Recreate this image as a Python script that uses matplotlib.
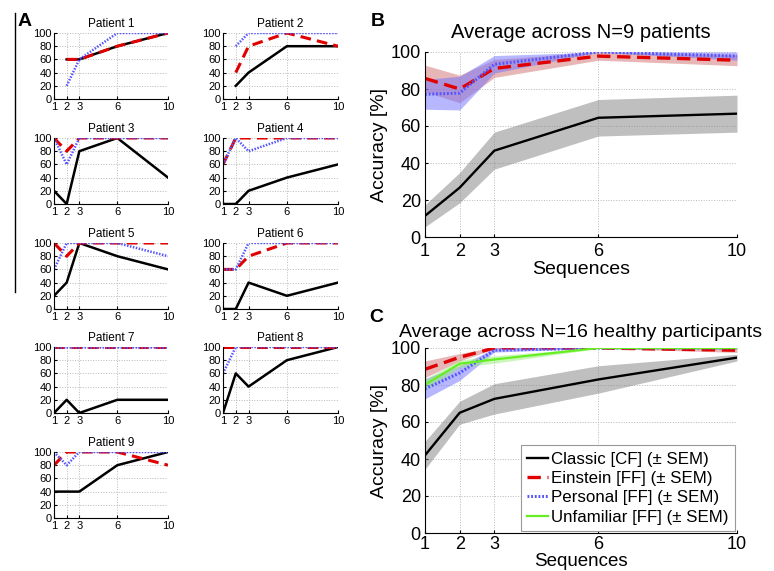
import numpy as np
import matplotlib.pyplot as plt
from matplotlib.lines import Line2D

plt.rcParams['font.family'] = ['Liberation Sans', 'DejaVu Sans']

# Number of stimulus sequences averaged
sequences = [1, 2, 3, 6, 10]
nan = np.nan

# Single-patient accuracies [%] (rows = patients 1..9)
classic_patients = [
    [nan, 60, 60, 80, 100],
    [nan, 20, 40, 80, 80],
    [20, 0, 80, 100, 40],
    [0, 0, 20, 40, 60],
    [20, 40, 100, 80, 60],
    [0, 0, 40, 20, 40],
    [0, 20, 0, 20, 20],
    [0, 60, 40, 80, 100],
    [40, 40, 40, 80, 100],
]
einstein_patients = [
    [nan, 60, 60, 80, 100],
    [nan, 40, 80, 100, 80],
    [100, 80, 100, 100, 100],
    [60, 100, 100, 100, 100],
    [100, 80, 100, 100, 100],
    [60, 60, 80, 100, 100],
    [100, 100, 100, 100, 100],
    [100, 100, 100, 100, 100],
    [80, 100, 100, 100, 80],
]
personal_patients = [
    [nan, 20, 60, 100, 100],
    [nan, 80, 100, 100, 100],
    [100, 60, 100, 100, 100],
    [60, 100, 80, 100, 100],
    [60, 100, 100, 100, 80],
    [60, 60, 100, 100, 100],
    [100, 100, 100, 100, 100],
    [60, 100, 100, 100, 100],
    [100, 80, 100, 100, 100],
]

# Healthy participants: mean and SEM [%]
healthy_classic_mean = [42, 65, 72.5, 83, 94.8]
healthy_classic_sem = [7.5, 6.2, 8.2, 7.4, 1.8]
healthy_einstein_mean = [88.5, 95, 100, 100, 98.8]
healthy_einstein_sem = [4.5, 2.0, 0.5, 0.2, 1.2]
healthy_personal_mean = [78, 86.5, 98.8, 100, 100]
healthy_personal_sem = [5.5, 4.0, 1.0, 0.2, 0.5]
healthy_unfamiliar_mean = [80.2, 91.5, 93.8, 100, 100]
healthy_unfamiliar_sem = [3.0, 2.0, 2.0, 0.3, 0.5]

RED = '#e00000'
BLUE = '#5555ff'
GREEN = '#66ee22'

W, H = 774, 571
fig = plt.figure(figsize=(W / 100, H / 100), dpi=100)


def add_axes_px(left, top, right, bottom):
    return fig.add_axes([left / W, 1 - bottom / H, (right - left) / W, (bottom - top) / H])


def style_axes(ax, fs, xpad, ypad):
    ax.set_xlim(1, 10)
    ax.set_ylim(0, 100)
    ax.set_xticks(sequences)
    ax.set_yticks(range(0, 101, 20))
    ax.spines['top'].set_visible(False)
    ax.spines['right'].set_visible(False)
    ax.grid(True, linestyle=':', color='#b8b8b8', linewidth=0.7)
    ax.set_axisbelow(True)
    ax.tick_params(direction='in', length=2, labelsize=fs)
    ax.tick_params(axis='x', pad=xpad)
    ax.tick_params(axis='y', pad=ypad)


# ---- A: individual patients ----
rows_top = [33, 138, 243, 347, 452]
cols = [(54, 168), (223, 338)]
for i in range(9):
    r, c = divmod(i, 2)
    left, right = cols[c]
    top = rows_top[r]
    ax = add_axes_px(left, top, right, top + 66)
    style_axes(ax, 8, 2.5, 1.5)
    ax.plot(sequences, classic_patients[i], color='black', lw=1.8)
    ax.plot(sequences, einstein_patients[i], color=RED, lw=2.2, ls=(0, (3.5, 2)))
    ax.plot(sequences, personal_patients[i], color=BLUE, lw=1.8, ls=(0, (0.6, 0.6)))
    ax.set_title(f'Patient {i + 1}', fontsize=8.5, pad=4)

fig.text(18 / W, 1 - 21 / H, 'A', fontsize=14, fontweight='bold', va='center')
fig.add_artist(Line2D([15 / W, 15 / W], [1 - 13 / H, 1 - 292 / H], color='black', lw=1))


def draw_group(ax, mean, sem, color, fill, ls, lw, label=None):
    mean = np.asarray(mean, dtype=float)
    sem = np.asarray(sem, dtype=float)
    ax.fill_between(sequences, mean - sem, mean + sem, color=fill, alpha=0.5, lw=0)
    ax.plot(sequences, mean, color=color, ls=ls, lw=lw, label=label)


def mean_sem(data):
    arr = np.array(data, dtype=float)
    n = np.sum(~np.isnan(arr), axis=0)
    m = np.nanmean(arr, axis=0)
    s = np.nanstd(arr, axis=0, ddof=1) / np.sqrt(n)
    return m, s


RED_DASH = (0, (4, 2))
BLUE_DOT = (0, (0.6, 0.6))

# ---- B: patient average ----
axb = add_axes_px(425, 52, 737, 237)
style_axes(axb, 13, 4, 3)
for data, color, fill, ls, lw in [
    (classic_patients, 'black', '#808080', '-', 1.7),
    (einstein_patients, RED, '#d07070', RED_DASH, 2.4),
    (personal_patients, BLUE, '#7070ff', BLUE_DOT, 2.2),
]:
    m, s = mean_sem(data)
    draw_group(axb, m, s, color, fill, ls, lw)
axb.set_title('Average across N=9 patients', fontsize=14.5, pad=10)
axb.set_xlabel('Sequences', fontsize=14, labelpad=1)
axb.set_ylabel('Accuracy [%]', fontsize=14, labelpad=2)
fig.text(371 / W, 1 - 22 / H, 'B', fontsize=14, fontweight='bold', va='center')

# ---- C: healthy average ----
axc = add_axes_px(425, 348, 737, 533)
style_axes(axc, 13, 2.5, 3)
draw_group(axc, healthy_classic_mean, healthy_classic_sem, 'black', '#808080', '-', 1.7,
           'Classic [CF] (± SEM)')
draw_group(axc, healthy_einstein_mean, healthy_einstein_sem, RED, '#d07070', RED_DASH, 2.4,
           'Einstein [FF] (± SEM)')
draw_group(axc, healthy_personal_mean, healthy_personal_sem, BLUE, '#7070ff', BLUE_DOT, 2.2,
           'Personal [FF] (± SEM)')
draw_group(axc, healthy_unfamiliar_mean, healthy_unfamiliar_sem, GREEN, '#99ee77', '-', 1.6,
           'Unfamiliar [FF] (± SEM)')
axc.set_title('Average across N=16 healthy participants', fontsize=14, pad=8)
axc.set_xlabel('Sequences', fontsize=13.5, labelpad=-0.5)
axc.set_ylabel('Accuracy [%]', fontsize=14, labelpad=2)
leg = axc.legend(loc='lower right', fontsize=12.2, handlelength=1.2, handletextpad=0.2,
                 borderpad=0.4, labelspacing=0.25, fancybox=False, framealpha=1,
                 borderaxespad=0.1)
leg.get_frame().set_edgecolor('#999999')
leg.get_frame().set_linewidth(0.8)
fig.text(369 / W, 1 - 318 / H, 'C', fontsize=14, fontweight='bold', va='center')

fig.savefig('out.png', dpi=100)
